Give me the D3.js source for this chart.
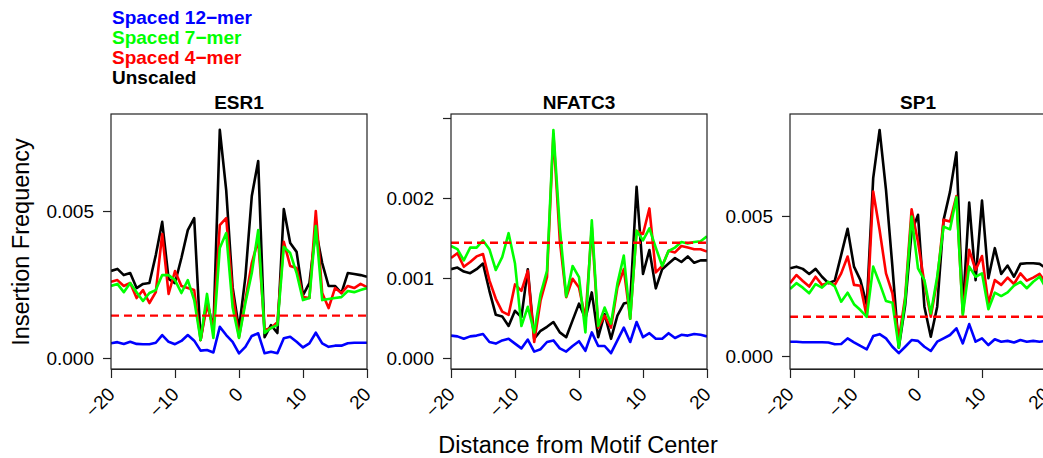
<!DOCTYPE html>
<html lang="en">
<head>
<meta charset="UTF-8">
<script src="https://d3js.org/d3.v7.min.js"></script>
<title>Insertion Frequency</title>
<style>
  body { margin: 0; background: #fff; }
  text { font-family: "Liberation Sans", Arial, Helvetica, sans-serif; }
</style>
</head>
<body>
<svg id="svg1" width="1043" height="458"></svg>
<script>
// distance from motif center
const offsets = [-20,-19,-18,-17,-16,-15,-14,-13,-12,-11,-10,-9,-8,-7,-6,-5,-4,-3,-2,-1,0,
                 1,2,3,4,5,6,7,8,9,10,11,12,13,14,15,16,17,18,19,20];

// ESR1
const esr1Unscaled = [0.00296,0.00303,0.00282,0.00289,0.00238,0.00252,0.00255,0.00350,0.00463,0.00269,
  0.00255,0.00340,0.00435,0.00476,0.00061,0.00197,0.00095,0.00776,0.00571,0.00241,
  0.00099,0.00276,0.00551,0.00670,0.00071,0.00112,0.00085,0.00507,0.00391,0.00361,
  0.00214,0.00255,0.00435,0.00323,0.00245,0.00245,0.00221,0.00289,0.00286,0.00282,0.00276];
const esr1Spaced4 = [0.00259,0.00265,0.00245,0.00255,0.00204,0.00231,0.00187,0.00224,0.00422,0.00218,
  0.00296,0.00245,0.00238,0.00231,0.00061,0.00180,0.00102,0.00452,0.00476,0.00221,
  0.00071,0.00197,0.00323,0.00401,0.00095,0.00102,0.00122,0.00395,0.00313,0.00306,
  0.00207,0.00204,0.00500,0.00221,0.00170,0.00238,0.00221,0.00245,0.00238,0.00252,0.00241];
const esr1Spaced7 = [0.00245,0.00252,0.00224,0.00255,0.00224,0.00194,0.00221,0.00231,0.00282,0.00282,
  0.00265,0.00221,0.00265,0.00197,0.00061,0.00218,0.00068,0.00374,0.00425,0.00173,
  0.00068,0.00187,0.00289,0.00435,0.00085,0.00102,0.00112,0.00378,0.00357,0.00289,
  0.00197,0.00204,0.00449,0.00197,0.00201,0.00204,0.00207,0.00228,0.00224,0.00231,0.00238];
const esr1Spaced12 = [0.00050,0.00054,0.00048,0.00055,0.00048,0.00047,0.00047,0.00052,0.00078,0.00055,
  0.00047,0.00058,0.00078,0.00059,0.00025,0.00027,0.00019,0.00106,0.00078,0.00055,
  0.00016,0.00038,0.00075,0.00084,0.00016,0.00021,0.00016,0.00067,0.00072,0.00055,
  0.00036,0.00050,0.00086,0.00050,0.00038,0.00042,0.00042,0.00050,0.00052,0.00052,0.00052];
const esr1Background = 0.00144;

// NFATC3
const nfatc3Unscaled = [0.00111,0.00113,0.00108,0.00106,0.00111,0.00118,0.00084,0.00054,0.00052,0.00040,
  0.00059,0.00051,0.00111,0.00024,0.00034,0.00039,0.00045,0.00032,0.00026,0.00047,
  0.00068,0.00049,0.00082,0.00026,0.00055,0.00024,0.00053,0.00068,0.00070,0.00214,
  0.00105,0.00135,0.00087,0.00111,0.00118,0.00125,0.00120,0.00127,0.00119,0.00122,0.00122];
const nfatc3Spaced4 = [0.00125,0.00131,0.00114,0.00120,0.00127,0.00130,0.00097,0.00074,0.00058,0.00054,
  0.00092,0.00084,0.00109,0.00020,0.00072,0.00101,0.00280,0.00147,0.00076,0.00099,
  0.00088,0.00049,0.00163,0.00038,0.00053,0.00038,0.00088,0.00111,0.00049,0.00159,
  0.00155,0.00187,0.00107,0.00115,0.00134,0.00132,0.00140,0.00138,0.00136,0.00136,0.00133];
const nfatc3Spaced7 = [0.00140,0.00136,0.00122,0.00138,0.00138,0.00147,0.00136,0.00110,0.00126,0.00156,
  0.00118,0.00040,0.00064,0.00032,0.00080,0.00109,0.00285,0.00163,0.00077,0.00115,
  0.00101,0.00032,0.00172,0.00040,0.00063,0.00043,0.00093,0.00128,0.00049,0.00159,
  0.00147,0.00162,0.00138,0.00115,0.00134,0.00138,0.00145,0.00143,0.00145,0.00146,0.00152];
const nfatc3Spaced12 = [0.00028,0.00027,0.00024,0.00027,0.00028,0.00030,0.00020,0.00018,0.00022,0.00024,
  0.00018,0.00012,0.00023,0.00008,0.00011,0.00020,0.00022,0.00012,0.00008,0.00015,
  0.00021,0.00009,0.00032,0.00015,0.00015,0.00006,0.00022,0.00038,0.00020,0.00045,
  0.00026,0.00031,0.00024,0.00024,0.00031,0.00025,0.00029,0.00028,0.00030,0.00029,0.00027];
const nfatc3Background = 0.00144;

// SP1
const sp1Unscaled = [0.00313,0.00319,0.00311,0.00293,0.00311,0.00283,0.00260,0.00269,0.00361,0.00454,
  0.00319,0.00271,0.00182,0.00635,0.00807,0.00593,0.00319,0.00030,0.00182,0.00443,
  0.00504,0.00176,0.00069,0.00176,0.00486,0.00586,0.00727,0.00164,0.00548,0.00271,
  0.00555,0.00278,0.00385,0.00293,0.00323,0.00283,0.00329,0.00331,0.00331,0.00329,0.00313];
const sp1Spaced4 = [0.00260,0.00289,0.00268,0.00248,0.00283,0.00254,0.00262,0.00254,0.00295,0.00355,
  0.00254,0.00251,0.00140,0.00587,0.00450,0.00295,0.00224,0.00057,0.00212,0.00524,
  0.00407,0.00260,0.00140,0.00271,0.00486,0.00480,0.00571,0.00152,0.00379,0.00307,
  0.00357,0.00188,0.00271,0.00254,0.00280,0.00257,0.00295,0.00269,0.00280,0.00293,0.00260];
const sp1Spaced7 = [0.00239,0.00260,0.00244,0.00224,0.00257,0.00244,0.00265,0.00248,0.00194,0.00226,
  0.00185,0.00164,0.00140,0.00319,0.00260,0.00196,0.00190,0.00030,0.00200,0.00498,
  0.00313,0.00271,0.00152,0.00283,0.00462,0.00452,0.00567,0.00146,0.00319,0.00283,
  0.00295,0.00167,0.00226,0.00214,0.00227,0.00251,0.00265,0.00242,0.00265,0.00283,0.00242];
const sp1Spaced12 = [0.00051,0.00051,0.00049,0.00049,0.00049,0.00049,0.00048,0.00042,0.00043,0.00063,
  0.00049,0.00036,0.00024,0.00071,0.00078,0.00063,0.00033,0.00010,0.00033,0.00057,
  0.00054,0.00033,0.00018,0.00051,0.00063,0.00075,0.00099,0.00045,0.00114,0.00051,
  0.00063,0.00039,0.00060,0.00051,0.00054,0.00048,0.00057,0.00051,0.00054,0.00051,0.00054];
const sp1Background = 0.00140;

// ticks and labels
const xTicks = [-20, -10, 0, 10, 20];
const esr1Ticks = [0, 0.005];
const nfatc3Ticks = [0, 0.001, 0.002, 0.003];
const nfatc3TickLabels = ["0.000", "0.001", "0.002", ""];
const sp1Ticks = [0, 0.005];
const legendLabels = ["Spaced 12\u2212mer", "Spaced 7\u2212mer", "Spaced 4\u2212mer", "Unscaled"];
const legendColors = ["#0000ff", "#00ff00", "#ff0000", "#000000"];

const svg1 = d3.select("svg#svg1");
svg1.append("rect").attr("width", 1043).attr("height", 458).attr("fill", "white");

const plotTop = 114, plotBottom = 369, plotWidth = 256;
const plotHeight = plotBottom - plotTop;

const panels = [
  {title: "ESR1", left: 111, yDomain: [-0.000374, 0.0083], ticks: esr1Ticks, tickLabels: null,
   series: [esr1Unscaled, esr1Spaced4, esr1Spaced7, esr1Spaced12], background: esr1Background},
  {title: "NFATC3", left: 451, yDomain: [-0.0001375, 0.00305], ticks: nfatc3Ticks, tickLabels: nfatc3TickLabels,
   series: [nfatc3Unscaled, nfatc3Spaced4, nfatc3Spaced7, nfatc3Spaced12], background: nfatc3Background},
  {title: "SP1", left: 790, yDomain: [-0.000464, 0.00864], ticks: sp1Ticks, tickLabels: null,
   series: [sp1Unscaled, sp1Spaced4, sp1Spaced7, sp1Spaced12], background: sp1Background}
];
// drawing order: unscaled, 4-mer, 7-mer, 12-mer
const seriesColors = ["#000000", "#ff0000", "#00ff00", "#0000ff"];

panels.forEach((p, pi) => {
  const g = svg1.append("g").attr("transform", `translate(${p.left},${plotTop})`);
  const xScale = d3.scaleLinear().domain([-20, 20]).range([0, plotWidth]);
  const yScale = d3.scaleLinear().domain(p.yDomain).range([plotHeight, 0]);

  g.append("clipPath").attr("id", "clip" + pi)
    .append("rect").attr("width", plotWidth).attr("height", plotHeight);

  const lineGen = d3.line()
    .x((d, i) => xScale(offsets[i]))
    .y(d => yScale(d));

  const lines = g.append("g").attr("clip-path", `url(#clip${pi})`);
  p.series.forEach((s, si) => {
    lines.append("path")
      .datum(s)
      .attr("fill", "none")
      .attr("stroke", seriesColors[si])
      .attr("stroke-width", 2.6)
      .attr("stroke-linejoin", "round")
      .attr("d", lineGen);
  });

  // background level
  lines.append("line")
    .attr("x1", 0).attr("x2", plotWidth)
    .attr("y1", yScale(p.background)).attr("y2", yScale(p.background))
    .attr("stroke", "#ff0000")
    .attr("stroke-width", 2.4)
    .attr("stroke-dasharray", "8,5");

  // box
  g.append("rect")
    .attr("width", plotWidth).attr("height", plotHeight)
    .attr("fill", "none").attr("stroke", "#222").attr("stroke-width", 1.2);

  // x axis
  const xAxis = g.append("g")
    .attr("transform", `translate(0,${plotHeight})`)
    .call(d3.axisBottom(xScale).tickValues(xTicks).tickSize(9).tickSizeOuter(0));
  xAxis.select(".domain").attr("stroke", "#222").attr("stroke-width", 1.2);
  xAxis.selectAll(".tick line").attr("stroke", "#222").attr("stroke-width", 1.2);
  xAxis.selectAll(".tick text")
    .attr("y", null).attr("dy", null)
    .attr("transform", "translate(0,22) rotate(-45)")
    .attr("text-anchor", "end")
    .attr("dominant-baseline", "central")
    .attr("font-size", 19)
    .attr("font-family", "Liberation Sans, Arial, sans-serif")
    .attr("fill", "#000");

  // y axis
  const fmt = d3.format(".3f");
  const yAxis = g.append("g")
    .call(d3.axisLeft(yScale).tickValues(p.ticks).tickSize(8).tickSizeOuter(0)
      .tickFormat((d, i) => p.tickLabels ? p.tickLabels[i] : fmt(d)));
  yAxis.select(".domain").remove();
  yAxis.selectAll(".tick line").attr("stroke", "#222").attr("stroke-width", 1.2);
  yAxis.selectAll(".tick text")
    .attr("x", -17).attr("dy", "0.35em")
    .attr("font-size", 19)
    .attr("font-family", "Liberation Sans, Arial, sans-serif")
    .attr("fill", "#000");

  // title
  svg1.append("text")
    .attr("x", p.left + plotWidth / 2).attr("y", 109)
    .attr("text-anchor", "middle")
    .attr("font-size", 19).attr("font-weight", "bold")
    .text(p.title);
});

// legend
legendLabels.forEach((t, i) => {
  svg1.append("text")
    .attr("x", 112).attr("y", 24 + i * 20)
    .attr("font-size", 19).attr("font-weight", "bold")
    .attr("fill", legendColors[i])
    .text(t);
});

// axis titles
svg1.append("text")
  .attr("transform", "translate(29,242) rotate(-90)")
  .attr("text-anchor", "middle")
  .attr("font-size", 23.5)
  .text("Insertion Frequency");

svg1.append("text")
  .attr("x", 578).attr("y", 453)
  .attr("text-anchor", "middle")
  .attr("font-size", 23.5)
  .text("Distance from Motif Center");
</script>
</body>
</html>
